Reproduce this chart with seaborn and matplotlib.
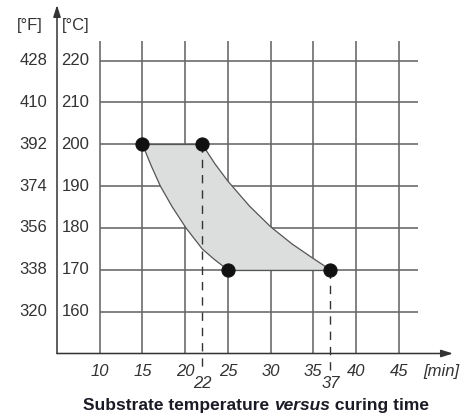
import matplotlib
matplotlib.use("Agg")
import matplotlib.pyplot as plt
import seaborn as sns
import pandas as pd

# ---- data ----
minute_ticks = [10, 15, 20, 25, 30, 35, 40, 45]
celsius_ticks = [160, 170, 180, 190, 200, 210, 220]
fahrenheit_labels = ["320", "338", "356", "374", "392", "410", "428"]
extra_minutes = [22, 37]

corner_time = [15, 22, 25, 37]
corner_temp = [200, 200, 170, 170]

# boundary of shaded window
left_curve_time = [15, 16, 17.1, 18.5, 20.1, 22, 23.4, 25]
left_curve_temp = [200, 195, 190, 185, 180, 175, 172.5, 170]
right_curve_time = [22, 23.5, 25, 27.5, 30, 32.5, 35, 37]
right_curve_temp = [200, 195.3, 191.2, 185.3, 180.3, 176.2, 172.7, 170]

title_parts = ["Substrate temperature ", "versus", " curing time"]

# ---- figure ----
sns.set_style("white")
plt.rcParams["font.family"] = ["Liberation Sans", "DejaVu Sans"]

fig = plt.figure(figsize=(4.66, 4.18), dpi=100)
ax = fig.add_axes([57 / 466, (418 - 353.5) / 418, (453 - 57) / 466, (353.5 - 5) / 418])
ax.set_xlim(5, 51.35)
ax.set_ylim(150, 233.3)
for s in ax.spines.values():
    s.set_visible(False)

grid_c = "#666666"
ax.vlines(minute_ticks, 150, 224.8, color=grid_c, lw=1.15, zorder=1)
ax.hlines(celsius_ticks, 10, 47.3, color=grid_c, lw=1.15, zorder=1)

# shaded window: right curve down, then left curve back up (closes along the top edge)
poly_x = right_curve_time + left_curve_time[::-1]
poly_y = right_curve_temp + left_curve_temp[::-1]
ax.fill(poly_x, poly_y, facecolor="#dcdddd", edgecolor="none", zorder=2)
line_kw = dict(color="#555555", lw=0.9, zorder=3, solid_joinstyle="round")
ax.plot(left_curve_time, left_curve_temp, **line_kw)
ax.plot(right_curve_time, right_curve_temp, **line_kw)
ax.plot([corner_time[0], corner_time[1]], [corner_temp[0], corner_temp[1]], **line_kw)
ax.plot([corner_time[2], corner_time[3]], [corner_temp[2], corner_temp[3]], **line_kw)

# dashed drop lines
for t, c in zip([corner_time[1], corner_time[3]], [corner_temp[1], corner_temp[3]]):
    ax.plot([t, t], [c, 145.8], color="#333333", lw=1.0, ls=(0, (6, 5)), clip_on=False, zorder=3)

df = pd.DataFrame({"time": corner_time, "temp": corner_temp})
sns.scatterplot(data=df, x="time", y="temp", ax=ax, s=90, color="#111111",
                edgecolor="#111111", zorder=5, clip_on=False, legend=False)
ax.set_xlabel("")
ax.set_ylabel("")

# axes with arrows
arrow = dict(arrowstyle="-|>,head_length=0.7,head_width=0.22", color="#333333", lw=1.1,
             shrinkA=0, shrinkB=0)
ax.annotate("", xy=(1, 0), xytext=(0, 0), xycoords="axes fraction", arrowprops=arrow)
ax.annotate("", xy=(0, 1), xytext=(0, 0), xycoords="axes fraction", arrowprops=arrow)

txt_c = "#333333"
fs = 12
# x ticks
ax.set_xticks(minute_ticks)
ax.set_xticklabels([str(m) for m in minute_ticks], fontsize=fs, style="italic", color=txt_c)
ax.tick_params(axis="x", length=0, pad=7.5)
ax.set_yticks([])
for m in extra_minutes:
    ax.annotate(str(m), xy=(m, 0), xycoords=("data", "axes fraction"), xytext=(0, -24.5),
                textcoords="offset points", ha="center", va="baseline", fontsize=fs,
                style="italic", color=txt_c)
ax.annotate("[min]", xy=(50.0, 0), xycoords=("data", "axes fraction"), xytext=(0, -7.5),
            textcoords="offset points", ha="center", va="top", fontsize=fs,
            style="italic", color=txt_c)

# y labels
for c, f in zip(celsius_ticks, fahrenheit_labels):
    ax.annotate(str(c), xy=(0, c), xycoords=("axes fraction", "data"), xytext=(3.3, 0),
                textcoords="offset points", ha="left", va="center", fontsize=fs, color=txt_c)
    ax.annotate(f, xy=(0, c), xycoords=("axes fraction", "data"), xytext=(-7, 0),
                textcoords="offset points", ha="right", va="center", fontsize=fs, color=txt_c)
ax.annotate("[°C]", xy=(0, 228.3), xycoords=("axes fraction", "data"), xytext=(3.3, 0),
            textcoords="offset points", ha="left", va="center", fontsize=fs, color=txt_c)
ax.annotate("[°F]", xy=(0, 228.3), xycoords=("axes fraction", "data"), xytext=(-10, 0),
            textcoords="offset points", ha="right", va="center", fontsize=fs, color=txt_c)

# title in three pieces (bold, bold italic, bold)
title_c = "#1b1b26"
t1 = fig.text(83 / 466, 1 - 410 / 418, title_parts[0], ha="left", va="baseline",
              fontsize=12.5, fontweight="bold", color=title_c)
t2 = ax.annotate(title_parts[1], xy=(1, 0), xycoords=t1, ha="left", va="bottom",
                 fontsize=12.5, fontweight="bold", style="italic", color=title_c,
                 annotation_clip=False)
t3 = ax.annotate(title_parts[2], xy=(1, 0), xycoords=t2, ha="left", va="bottom",
                 fontsize=12.5, fontweight="bold", color=title_c, annotation_clip=False)

fig.savefig("out.png", dpi=100)
